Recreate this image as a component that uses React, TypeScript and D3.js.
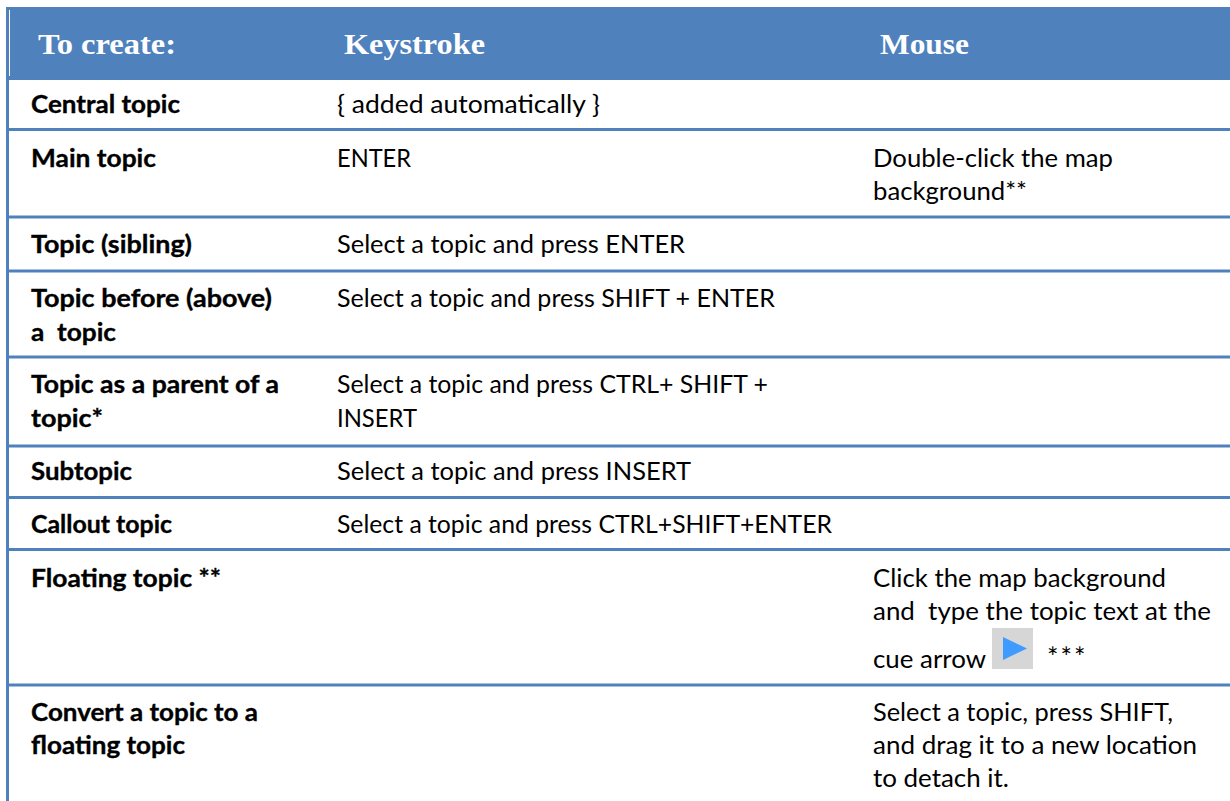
import React from "react";
import * as d3 from "d3";

const columns = ["To create:", "Keystroke", "Mouse"];
const topics = [
  ["Central topic"],
  ["Main topic"],
  ["Topic (sibling)"],
  ["Topic before (above)", "a  topic"],
  ["Topic as a parent of a", "topic*"],
  ["Subtopic"],
  ["Callout topic"],
  ["Floating topic **"],
  ["Convert a topic to a", "floating topic"],
];
const keystrokes = [
  ["{ added automatically }"],
  ["ENTER"],
  ["Select a topic and press ENTER"],
  ["Select a topic and press SHIFT + ENTER"],
  ["Select a topic and press CTRL+ SHIFT +", "INSERT"],
  ["Select a topic and press INSERT"],
  ["Select a topic and press CTRL+SHIFT+ENTER"],
  [],
  [],
];
const mice = [
  [],
  ["Double-click the map", "background**"],
  [],
  [],
  [],
  [],
  [],
  ["Click the map background", "and  type the topic text at the", "cue arrow"],
  ["Select a topic, press SHIFT,", "and drag it to a new location", "to detach it."],
];
const topicWidths = [[149], [125], [161], [241, 85], [248, 72], [101], [141], [190], [227, 154]];
const keyWidths = [[263], [74], [348], [438], [431, 80], [354], [495], [], []];
const mouseWidths = [[], [240, 154], [], [], [], [], [], [293, 338, 113], [300, 324, 136]];
const rowEdges = [80, 129.5, 217, 271, 357, 446, 497.5, 549.5, 685, 801];
const firstBaseline = [113, 167, 253, 307, 393, 480, 533, 587, 721];
const lineGaps = [[], [33], [], [34], [34], [], [], [33, 48], [33, 33]];

const BLUE = "#4f81bd";
const BODY = "Lato, Carlito, sans-serif";
const HEAD = "'Liberation Serif', serif";

export default function App() {
  const x = d3.scaleOrdinal<number, number>().domain([0, 1, 2]).range([31, 337, 873]);
  const headX = d3.scaleOrdinal<number, number>().domain([0, 1, 2]).range([38, 344, 880]);
  const headW = [138, 141, 89];
  const lineY = (r: number, i: number) =>
    firstBaseline[r] + d3.sum(lineGaps[r].slice(0, i));
  const cols = [topics, keystrokes, mice];
  const widths = [topicWidths, keyWidths, mouseWidths];
  return (
    <svg
      width={1230}
      height={801}
      style={{ position: "absolute", left: 0, top: 0, background: "#fff" }}
    >
      <rect x={6} y={7} width={1224} height={73} fill={BLUE} />
      <line x1={9.5} x2={9.5} y1={10} y2={76} stroke="#fff" strokeWidth={1} />
      <line x1={7.5} x2={7.5} y1={7} y2={801} stroke={BLUE} strokeWidth={3} />
      {rowEdges.slice(1, -1).map((y) => (
        <line key={y} x1={6} x2={1230} y1={y} y2={y} stroke={BLUE} strokeWidth={3} />
      ))}
      {columns.map((c, i) => (
        <text
          key={c}
          x={headX(i)}
          y={54}
          fill="#fff"
          fontFamily={HEAD}
          fontWeight={700}
          fontSize={29}
          textLength={headW[i]}
          lengthAdjust="spacingAndGlyphs"
        >
          {c}
        </text>
      ))}
      {cols.map((col, c) =>
        col.map((lines, r) =>
          lines.map((t, i) => (
            <text
              key={`${c}-${r}-${i}`}
              x={x(c)}
              y={lineY(r, i)}
              fill="#000"
              stroke={c === 0 ? "#000" : "none"}
              strokeWidth={0.35}
              fontFamily={BODY}
              fontWeight={c === 0 ? 700 : 400}
              fontSize={25}
              textLength={widths[c][r][i]}
              lengthAdjust="spacingAndGlyphs"
              xmlSpace="preserve"
            >
              {t}
            </text>
          ))
        )
      )}
      <rect x={992} y={628} width={41} height={41} fill="#d6d6d6" />
      <path d="M1003,637 L1027,648.5 L1003,660 Z" fill="#3f9bff" />
      <text x={1047} y={667} fontFamily={BODY} fontSize={27} letterSpacing={2}>
        ***
      </text>
    </svg>
  );
}
